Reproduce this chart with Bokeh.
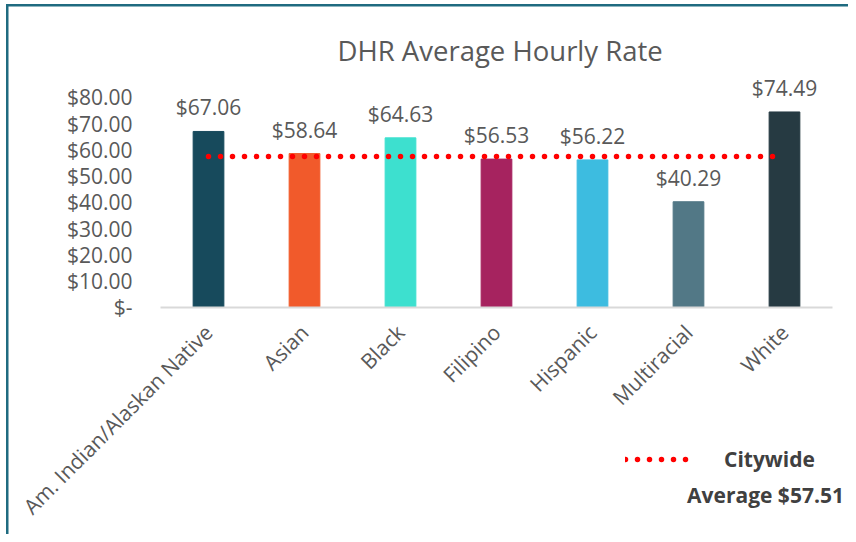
import math
from bokeh.plotting import figure
from bokeh.models import (ColumnDataSource, Range1d, FixedTicker,
                          LabelSet, Label, Legend, LegendItem)
from bokeh.core.properties import value
from bokeh.embed import file_html
from bokeh.resources import INLINE

# ---- data ----
categories = ["Am. Indian/Alaskan Native", "Asian", "Black", "Filipino",
              "Hispanic", "Multiracial", "White"]
rates = [67.06, 58.64, 64.63, 56.53, 56.22, 40.29, 74.49]
rate_labels = ["$67.06", "$58.64", "$64.63", "$56.53", "$56.22", "$40.29", "$74.49"]
bar_colors = ["#174a5c", "#f15a2b", "#3de0cf", "#a6235f", "#3dbce0", "#527886", "#263a42"]
citywide_avg = 57.51
legend_lines = ["Citywide", "Average $57.51"]
y_ticks = [0, 10, 20, 30, 40, 50, 60, 70, 80]
y_tick_labels = ["$-", "$10.00", "$20.00", "$30.00", "$40.00", "$50.00",
                 "$60.00", "$70.00", "$80.00"]

FONT = "Open Sans"
GREY = "#595959"
TEAL = "#1f6b80"

positions = list(range(len(categories)))  # one slot per category

# the plot frame spans the full width and the lower part of the canvas,
# so the rotated category labels and the legend are never clipped
p = figure(width=848, height=534, output_backend="svg", toolbar_location=None,
           x_range=Range1d(-2.1667, 6.6667),
           y_range=Range1d(-86.48, 88),
           min_border_left=0, min_border_right=0,
           min_border_top=76, min_border_bottom=0,
           title="DHR Average Hourly Rate")

# chart-area border (left and top edges) drawn as CSS background
p.styles = {
    "background": (f"linear-gradient({TEAL},{TEAL}) 6px 4px / 2.5px 540px no-repeat, "
                   f"linear-gradient({TEAL},{TEAL}) 6px 4px / 850px 2.5px no-repeat, white")
}

p.title.align = "left"
p.title.offset = 337
if "standoff" in p.title.properties():
    p.title.standoff = 16
p.title.text_font = FONT
p.title.text_font_size = "27.5px"
p.title.text_font_style = "normal"
p.title.text_color = GREY

p.outline_line_color = None
p.xgrid.grid_line_color = None
p.ygrid.grid_line_color = None
p.background_fill_color = None
p.border_fill_color = None

src = ColumnDataSource(dict(pos=positions, cat=categories, rate=rates,
                            lab=rate_labels, color=bar_colors))
p.vbar(x="pos", top="rate", width=0.32, color="color", source=src)

avg_src = ColumnDataSource(dict(pos=positions, avg=[citywide_avg] * len(categories)))
avg_line = p.line(x="pos", y="avg", source=avg_src, line_color="#ff0000",
                  line_width=5.5, line_dash="0 12", line_cap="round")

labels = LabelSet(x="pos", y="rate", text="lab", source=src, text_align="center",
                  text_baseline="bottom", y_offset=10, text_font=value(FONT),
                  text_font_size=value("21px"), text_color=GREY)
p.add_layout(labels)

# y axis, fixed at the left edge of the first category slot
p.yaxis.fixed_location = -0.5
p.yaxis.ticker = FixedTicker(ticks=y_ticks)
p.yaxis.major_label_overrides = {t: l for t, l in zip(y_ticks, y_tick_labels)}
p.yaxis.axis_line_color = None
p.yaxis.major_tick_line_color = None
p.yaxis.minor_tick_line_color = None
p.yaxis.major_tick_out = 0
p.yaxis.major_tick_in = 0
p.yaxis.major_label_standoff = 28
p.yaxis.major_label_text_font = FONT
p.yaxis.major_label_text_font_size = "21px"
p.yaxis.major_label_text_color = GREY

# x axis, fixed at y = 0, one tick per category
p.xaxis.fixed_location = 0
p.xaxis.ticker = FixedTicker(ticks=positions)
p.xaxis.major_label_overrides = {i: c for i, c in zip(positions, categories)}
p.xaxis.bounds = (-0.5, len(categories) - 0.5)
p.xaxis.axis_line_color = "#d9d9d9"
p.xaxis.axis_line_width = 2
p.xaxis.major_tick_line_color = None
p.xaxis.minor_tick_line_color = None
p.xaxis.major_tick_out = 0
p.xaxis.major_tick_in = 0
p.xaxis.major_label_orientation = math.pi / 4
p.xaxis.major_label_standoff = 21
p.xaxis.major_label_text_font = FONT
p.xaxis.major_label_text_font_size = "21px"
p.xaxis.major_label_text_color = GREY

# legend: dotted glyph + two centred lines of bold text
legend = Legend(items=[LegendItem(label=legend_lines[0], renderers=[avg_line])],
                location=(625, 61), glyph_width=65, glyph_height=24,
                label_standoff=34, padding=0, margin=0, border_line_color=None,
                background_fill_alpha=0, label_text_font=FONT,
                label_text_font_size="21px", label_text_font_style="bold",
                label_text_color="#404040")
p.add_layout(legend, "center")

p.add_layout(Label(x=5.802, y=-71.6, text=legend_lines[1], text_align="center",
                   text_baseline="middle", text_font=FONT, text_font_size="21px",
                   text_font_style="bold", text_color="#404040"))

open("out.html", "w").write(file_html(p, INLINE))
